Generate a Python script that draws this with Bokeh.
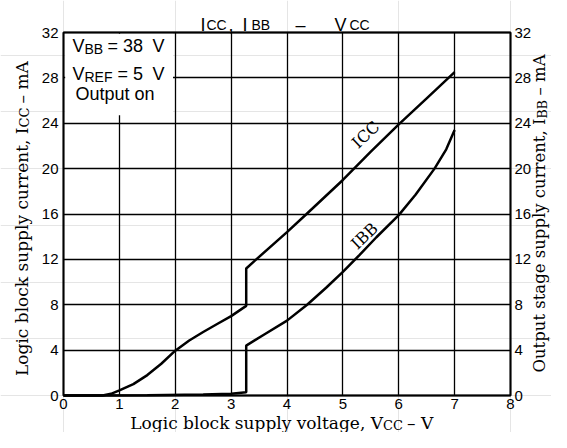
import math
from bokeh.plotting import figure
from bokeh.models import Range1d, LinearAxis, Label, BoxAnnotation, FixedTicker, ColumnDataSource, Grid
from bokeh.embed import file_html
from bokeh.resources import INLINE

# ---- data ----
x_ticks = [0, 1, 2, 3, 4, 5, 6, 7, 8]
y_ticks = [0, 4, 8, 12, 16, 20, 24, 28, 32]

icc_v = [0.0, 0.7, 0.85, 1.0, 1.25, 1.5, 1.75, 2.0, 2.25, 2.5, 2.75, 3.0, 3.27,
         3.27, 3.45, 4.0, 4.35, 5.0, 5.5, 6.0, 6.5, 7.0]
icc_ma = [0.0, 0.0, 0.15, 0.45, 1.0, 1.8, 2.8, 3.95, 4.85, 5.6, 6.3, 7.0, 7.9,
          11.2, 12.0, 14.4, 16.0, 19.0, 21.5, 23.9, 26.2, 28.5]

ibb_v = [0.0, 1.5, 2.5, 3.0, 3.27, 3.27, 3.6, 4.0, 4.36, 4.7, 5.0, 5.3, 5.6,
         6.0, 6.3, 6.64, 6.85, 7.0]
ibb_ma = [0.0, 0.02, 0.08, 0.15, 0.28, 4.4, 5.4, 6.6, 8.0, 9.5, 10.9, 12.4, 13.95,
          15.9, 17.7, 20.0, 21.7, 23.4]

# ---- layout (canvas pixels) ----
W, H = 551, 432
FL, FR, FT, FB = 63, 510, 32, 395   # plot area inside the canvas
SHIFT = 4                            # observed text drop, compensated

def dx(px):
    return (px - FL) * 8.0 / (FR - FL)

def dy(py):
    return (FB - py) * 32.0 / (FB - FT)

p = figure(width=W, height=H, output_backend="svg", toolbar_location=None,
           x_range=Range1d(dx(0), dx(W)), y_range=Range1d(dy(H), dy(0)),
           title=None, x_axis_location=None, y_axis_location=None)
p.min_border = 0
p.min_border_left = 0
p.min_border_right = 0
p.min_border_top = 0
p.min_border_bottom = 0
p.background_fill_color = "white"
p.border_fill_color = "white"
p.outline_line_color = None

xa = LinearAxis(ticker=FixedTicker(ticks=x_ticks), fixed_location=0)
la = LinearAxis(ticker=FixedTicker(ticks=y_ticks), fixed_location=0)
ra = LinearAxis(ticker=FixedTicker(ticks=y_ticks), fixed_location=8)
p.add_layout(xa, "below")
p.add_layout(la, "left")
p.add_layout(ra, "right")

for ax in [xa, la, ra]:
    ax.axis_line_color = None
    ax.major_tick_line_color = None
    ax.minor_tick_line_color = None
    ax.major_tick_out = 0
    ax.major_tick_in = 0
    ax.minor_tick_out = 0
    ax.major_label_text_font = "Liberation Sans"
    ax.major_label_text_font_size = "15px"
    ax.major_label_text_color = "black"
    ax.major_label_standoff = 5
xa.major_label_standoff = 3
ra.major_label_standoff = 4

gx = Grid(dimension=0, ticker=FixedTicker(ticks=x_ticks), grid_line_color="black",
          grid_line_width=1.3)
gy = Grid(dimension=1, ticker=FixedTicker(ticks=y_ticks), grid_line_color="black",
          grid_line_width=1.3)
if "cross_bounds" in Grid.properties():
    gx.cross_bounds = (0, 32)
    gy.cross_bounds = (0, 8)
    p.add_layout(gx)
    p.add_layout(gy)
else:
    p.segment(x0=x_ticks, y0=[0] * len(x_ticks), x1=x_ticks, y1=[32] * len(x_ticks),
              line_color="black", line_width=1.3, level="underlay")
    p.segment(x0=[0] * len(y_ticks), y0=y_ticks, x1=[8] * len(y_ticks), y1=y_ticks,
              line_color="black", line_width=1.3, level="underlay")

# white box behind the conditions text
p.add_layout(BoxAnnotation(left=0.03, right=1.96, bottom=24.7, top=31.9,
                           fill_color="white", fill_alpha=1.0, line_alpha=0,
                           level="underlay"))
# plot border
p.add_layout(BoxAnnotation(left=0, right=8, bottom=0, top=32, fill_alpha=0,
                           line_color="black", line_width=2, line_alpha=1))

src_icc = ColumnDataSource(dict(v=icc_v, ma=icc_ma))
src_ibb = ColumnDataSource(dict(v=ibb_v, ma=ibb_ma))
p.line("v", "ma", source=src_icc, line_color="black", line_width=2.5)
p.line("v", "ma", source=src_ibb, line_color="black", line_width=2.5)

SANS = "Liberation Sans"
SERIF = "DejaVu Serif"

def lab(xp, yp, text, size, font, angle=0.0, align="left", baseline="alphabetic"):
    ax_ = xp - SHIFT * math.sin(angle)
    ay_ = yp - SHIFT * math.cos(angle)
    p.add_layout(Label(x=dx(ax_), y=dy(ay_), text=text, text_font=font,
                       text_font_size=f"{size}px", angle=angle, text_align=align,
                       text_baseline=baseline, text_color="black"))

# title
lab(200, 28, "I", 18, SANS)
lab(206, 28, "CC", 14, SANS)
lab(228, 28, ",", 18, SANS)
lab(242, 28, "I", 18, SANS)
lab(251, 28, "BB", 14, SANS)
lab(300, 28, "\u2013", 18, SANS, align="center")
lab(334, 28, "V", 18, SANS)
lab(349, 28, "CC", 14, SANS)

# conditions
lab(72, 49.3, "V", 18, SANS)
lab(84, 52.3, "BB", 14, SANS)
lab(107, 49.3, "= 38", 18, SANS)
lab(152, 49.3, "V", 18, SANS)
lab(72, 77.3, "V", 18, SANS)
lab(84, 80.3, "REF", 14, SANS)
lab(117, 77.3, "= 5", 18, SANS)
lab(152, 77.3, "V", 18, SANS)
lab(75, 97, "Output on", 18, SANS)

# curve labels
lab(368, 137, "ICC", 16, SERIF, angle=0.76, align="center", baseline="middle")
lab(366.7, 238.3, "IBB", 16, SERIF, angle=0.76, align="center", baseline="middle")

# axis titles
up = math.pi / 2
lab(25, 127, "Logic block supply current, I", 17, SERIF, angle=up, align="right")
lab(28, 127, "CC", 13, SERIF, angle=up, align="left")
lab(25, 103, "\u2013 mA", 17, SERIF, angle=up, align="left")

lab(543, 118, "Output stage supply current, I", 16.5, SERIF, angle=up, align="right")
lab(546, 118, "BB", 12.5, SERIF, angle=up, align="left")
lab(543, 95, "\u2013 mA", 16.5, SERIF, angle=up, align="left")

lab(382.5, 426, "Logic block supply voltage, V", 17, SERIF, align="right")
lab(382.5, 428.5, "CC", 13, SERIF, align="left")
lab(406.5, 426, "\u2013 V", 17, SERIF, align="left")

open("out.html", "w").write(file_html(p, INLINE))
